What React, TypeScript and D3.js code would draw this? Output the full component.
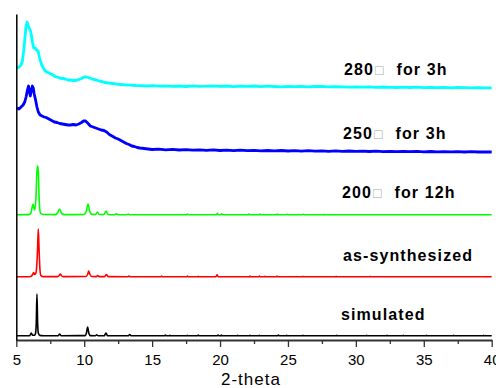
import React, { useEffect, useRef } from "react";
import * as d3 from "d3";

type Pt = [number, number];

// 2-theta ticks
const majorTicks = [5, 10, 15, 20, 25, 30, 35, 40];
const minorTicks = [7.5, 12.5, 17.5, 22.5, 27.5, 32.5, 37.5];

// Series labels (the ℃ glyph renders as a missing-glyph box in the source)
const seriesNames = ["simulated", "as-synthesized", "200", "250", "280"];
const seriesSuffix = ["", "", "for 12h", "for 3h", "for 3h"];
const seriesColors = ["#000000", "#ff0000", "#00ff00", "#0000ff", "#00ffff"];
const seriesOffsets = [4, 63, 125, 188, 252];

const simulatedPattern: Pt[] = [
  [5.0, 0.3], [5.9, 0.3], [6.0, 0.6], [6.1, 3], [6.2, 0.7], [6.36, 0.7], [6.42, 3], [6.47, 13], [6.52, 42], [6.57, 13], [6.62, 3], [6.72, 0.6],
  [7.0, 0.3], [8.08, 0.3], [8.19, 2], [8.3, 0.3], [10.05, 0.4], [10.16, 2.8], [10.25, 9], [10.34, 2.8], [10.45, 0.4],
  [10.82, 0.3], [10.92, 1.2], [11.02, 0.3], [11.48, 0.3], [11.6, 3], [11.72, 0.3], [13.23, 0.2], [13.35, 1.5], [13.47, 0.2],
  [15.9, 0.2], [15.97, 1], [16.05, 0.2], [16.25, 0.2], [16.3, 0.8], [16.35, 0.2], [17.55, 0.2], [17.6, 0.8], [17.65, 0.2],
  [18.35, 0.2], [18.4, 1], [18.45, 0.2], [19.8, 0.2], [19.85, 1], [19.9, 0.2], [20.05, 0.2], [20.1, 0.9], [20.15, 0.2],
  [21.25, 0.2], [21.3, 0.7], [21.35, 0.2], [22.15, 0.2], [22.2, 0.8], [22.25, 0.2], [22.85, 0.2], [22.9, 0.7], [22.95, 0.2],
  [24.25, 0.2], [24.3, 1], [24.35, 0.2], [24.85, 0.2], [24.9, 0.8], [24.95, 0.2], [26.05, 0.2], [26.1, 0.7], [26.15, 0.2],
  [28.55, 0.2], [28.6, 0.7], [28.65, 0.2], [30.75, 0.2], [30.8, 0.6], [30.85, 0.2], [32.25, 0.2], [32.3, 0.6], [32.35, 0.2],
  [33.45, 0.2], [33.5, 0.6], [33.55, 0.2], [35.15, 0.2], [35.2, 0.6], [35.25, 0.2], [37.15, 0.2], [37.2, 0.6], [37.25, 0.2],
  [39.35, 0.2], [39.4, 0.6], [39.45, 0.2], [40, 0.2],
];

const asSynthesizedPattern: Pt[] = [
  [5.0, 0.3], [5.95, 0.3], [6.12, 1], [6.22, 3], [6.28, 4.5], [6.35, 2.5], [6.43, 3.5], [6.51, 12], [6.57, 30], [6.62, 48], [6.67, 30], [6.73, 10],
  [6.8, 1.8], [6.95, 0.4], [8.05, 0.4], [8.16, 1.5], [8.24, 3], [8.33, 1.2], [8.45, 0.4], [10.12, 0.5], [10.25, 2.5],
  [10.33, 6], [10.42, 2.5], [10.55, 0.5], [10.9, 0.4], [11.0, 1.5], [11.1, 0.4], [11.5, 0.4], [11.63, 2.5], [11.76, 0.4],
  [13.2, 0.3], [13.3, 1], [13.4, 0.3], [15.65, 0.3], [15.7, 1], [15.75, 0.3], [17.55, 0.3], [17.6, 1], [17.65, 0.3],
  [18.35, 0.3], [18.4, 0.8], [18.45, 0.3], [19.7, 0.3], [19.78, 2.2], [19.86, 0.3], [22.15, 0.3], [22.2, 0.9], [22.25, 0.3],
  [22.85, 0.3], [22.9, 1], [22.95, 0.3], [23.25, 0.3], [23.3, 0.8], [23.35, 0.3], [24.15, 0.3], [24.2, 1], [24.25, 0.3],
  [26.05, 0.3], [26.1, 0.8], [26.15, 0.3], [28.5, 0.3], [28.55, 0.6], [28.6, 0.3], [31.0, 0.3], [31.05, 0.5], [31.1, 0.3],
  [40, 0.2],
];

const heated200Pattern: Pt[] = [
  [5.0, 0.3], [5.9, 0.4], [6.08, 2], [6.17, 8], [6.23, 11], [6.3, 7], [6.37, 5], [6.45, 18], [6.52, 44], [6.57, 49],
  [6.62, 44], [6.69, 14], [6.78, 2], [6.95, 0.5], [7.8, 0.4], [8.02, 1.5], [8.19, 6], [8.34, 1.5], [8.55, 0.4],
  [9.98, 0.5], [10.16, 4], [10.28, 11], [10.4, 4], [10.58, 0.6], [10.84, 0.5], [10.97, 3], [11.1, 0.5], [11.45, 0.6],
  [11.6, 4], [11.76, 0.5], [12.22, 0.3], [12.37, 1.2], [12.52, 0.3], [13.12, 0.3], [13.25, 1], [13.38, 0.3],
  [17.5, 0.3], [17.6, 1], [17.7, 0.3], [19.72, 0.3], [19.8, 1.6], [19.88, 0.3], [20.05, 0.3], [20.12, 1.2], [20.2, 0.3],
  [22.05, 0.3], [22.12, 1], [22.2, 0.3], [22.85, 0.3], [22.92, 1], [23.0, 0.3], [24.15, 0.3], [24.22, 1], [24.3, 0.3],
  [24.85, 0.3], [24.92, 0.8], [25.0, 0.3], [26.05, 0.3], [26.12, 0.8], [26.2, 0.3], [27.6, 0.3], [27.65, 0.6], [27.7, 0.3],
  [40, 0.3],
];

const heated250Pattern: Pt[] = [
  [5.05, 44], [5.2, 43], [5.35, 45], [5.5, 47], [5.62, 50], [5.72, 55], [5.82, 62], [5.9, 66], [5.97, 60], [6.03, 56],
  [6.1, 61], [6.18, 66], [6.25, 64], [6.32, 58], [6.42, 52], [6.52, 45], [6.62, 40], [6.75, 37], [6.9, 36], [7.05, 35],
  [7.2, 34.5], [7.4, 33], [7.6, 31.5], [7.8, 30], [8.0, 29.5], [8.2, 28.5], [8.4, 28], [8.6, 27.5], [8.8, 27], [9.0, 27],
  [9.2, 27.5], [9.4, 27], [9.6, 28], [9.8, 29.5], [9.95, 31], [10.1, 31], [10.25, 29], [10.45, 26], [10.65, 25],
  [10.85, 24], [11.05, 23], [11.25, 22], [11.45, 21.5], [11.65, 20], [11.85, 17.5], [12.05, 16], [12.3, 14], [12.5, 13],
  [12.7, 11.5], [12.9, 10], [13.1, 8.5], [13.3, 7.5], [13.5, 6], [13.7, 5.5], [13.9, 4.5], [14.1, 4], [14.4, 3.5],
  [14.7, 3], [15, 2.5], [15.5, 2.8], [16, 2.2], [16.5, 2.6], [17, 2], [17.5, 2.4], [18, 1.8], [18.5, 2.2], [19, 1.6],
  [19.5, 2.1], [20, 1.5], [20.5, 1.9], [21, 1.4], [21.5, 1.8], [22, 1.3], [22.5, 1.7], [23, 1.2], [23.5, 1.5], [24, 1.1],
  [24.5, 1.5], [25, 1], [25.5, 1.3], [26, 0.9], [26.5, 1.3], [27, 0.8], [27.5, 1.1], [28, 0.7], [28.5, 1.1], [29, 0.6],
  [29.5, 1], [30, 0.6], [30.5, 0.9], [31, 0.5], [31.5, 0.8], [32, 0.4], [32.5, 0.7], [33, 0.3], [33.5, 0.7], [34, 0.3],
  [34.5, 0.6], [35, 0.2], [35.5, 0.5], [36, 0.2], [36.5, 0.4], [37, 0.1], [37.5, 0.4], [38, 0], [38.5, 0.3], [39, 0],
  [39.5, 0.2], [40, 0],
];

const heated280Pattern: Pt[] = [
  [5.05, 20], [5.2, 21], [5.35, 23], [5.45, 27], [5.55, 38], [5.65, 52], [5.72, 62], [5.8, 66], [5.88, 62], [5.95, 60],
  [6.05, 57], [6.12, 52], [6.2, 45], [6.28, 40], [6.38, 40], [6.5, 38], [6.6, 37], [6.7, 31], [6.8, 26], [6.9, 22],
  [7.0, 20], [7.12, 17], [7.25, 16], [7.4, 15], [7.55, 14], [7.7, 13], [7.85, 11.5], [8.0, 11], [8.2, 10], [8.4, 9.5],
  [8.6, 9], [8.8, 8], [9.0, 8], [9.2, 7.5], [9.4, 7.5], [9.6, 8.5], [9.8, 9.5], [10.0, 11], [10.15, 11], [10.3, 10.5],
  [10.5, 9.5], [10.7, 8.5], [10.9, 8], [11.1, 7], [11.3, 6.5], [11.5, 5.5], [11.8, 5], [12.1, 4.5], [12.4, 3.8],
  [12.7, 3.5], [13.0, 3.2], [13.4, 2.8], [13.8, 2.5], [14.2, 2.4], [14.6, 2], [15, 2.3], [15.5, 1.8], [16, 2.2],
  [16.5, 1.6], [17, 2], [17.5, 1.5], [18, 2.1], [18.5, 1.6], [19, 1.8], [19.5, 2.2], [20, 1.6], [20.5, 2], [21, 1.4],
  [21.5, 1.9], [22, 1.6], [22.5, 2], [23, 1.4], [23.5, 1.8], [24, 1.5], [24.5, 1.2], [25, 1.7], [25.5, 1.3], [26, 1.6],
  [26.5, 1.1], [27, 1.5], [27.5, 1.7], [28, 1.1], [28.5, 1.4], [29, 1.1], [29.5, 0.8], [30, 1.2], [30.5, 0.8], [31, 1.1],
  [31.5, 0.6], [32, 1], [32.5, 0.7], [33, 0.5], [33.5, 0.9], [34, 0.5], [34.5, 0.8], [35, 0.4], [35.5, 0.7], [36, 0.3],
  [36.5, 0.6], [37, 0.2], [37.5, 0.5], [38, 0.3], [38.5, 0.1], [39, 0.4], [39.5, 0.1], [40, 0.2],
];

const patterns: Pt[][] = [simulatedPattern, asSynthesizedPattern, heated200Pattern, heated250Pattern, heated280Pattern];
const sharpSeries = [true, true, true, false, false];

const W = 496;
const H = 388;
const FONT = "'Liberation Sans', Arial, Helvetica, sans-serif";

export default function App() {
  const axisRef = useRef<SVGGElement>(null);

  const x = d3.scaleLinear().domain([5, 40]).range([16.3, 491.7]);
  const y = d3.scaleLinear().domain([0, 326]).range([340, 14]);

  useEffect(() => {
    if (!axisRef.current) return;
    const g = d3.select(axisRef.current);
    g.selectAll("*").remove();

    const bottom = g.append("g").attr("transform", `translate(0,${y(0)})`);
    bottom.call(
      d3.axisBottom(x).tickValues(majorTicks).tickSize(7).tickSizeOuter(0).tickFormat(d3.format("d")) as any
    );
    bottom.select(".domain").attr("stroke", "#333").attr("stroke-width", 2);
    bottom.selectAll(".tick line").attr("stroke", "#333").attr("stroke-width", 1.3);
    bottom
      .selectAll(".tick text")
      .attr("font-family", FONT)
      .attr("font-size", 15)
      .attr("fill", "#000")
      .attr("y", 14)
      .attr("dy", "0.71em");

    const minor = g.append("g").attr("transform", `translate(0,${y(0)})`);
    minor.call(d3.axisBottom(x).tickValues(minorTicks).tickSize(4).tickSizeOuter(0).tickFormat(() => "") as any);
    minor.select(".domain").remove();
    minor.selectAll(".tick line").attr("stroke", "#333").attr("stroke-width", 1.3);

    const left = g.append("g").attr("transform", `translate(${x(5)},0)`);
    left.call(d3.axisLeft(y).tickValues([]).tickSizeOuter(0) as any);
    left.select(".domain").attr("stroke", "#000").attr("stroke-width", 1.5);
  }, []);

  const lines = patterns.map((data, i) => {
    const gen = d3
      .line<Pt>()
      .x((d) => x(d[0]))
      .y((d) => y(d[1] + seriesOffsets[i]))
      .curve(sharpSeries[i] ? d3.curveMonotoneX : d3.curveLinear);
    return gen(data) || "";
  });

  const labelPos = [
    { x: 341, y: 320 },
    { x: 343, y: 261 },
    { x: 342, y: 198 },
    { x: 343, y: 139 },
    { x: 344, y: 75 },
  ];

  return (
    <svg
      width={W}
      height={H}
      style={{ position: "absolute", left: 0, top: 0, background: "#fff" }}
    >
      <rect x={0} y={0} width={W} height={H} fill="#fff" />
      {lines.map((d, i) => (
        <path
          key={i}
          d={d}
          fill="none"
          stroke={seriesColors[i]}
          strokeWidth={sharpSeries[i] ? 1.6 : 2.8}
          strokeLinejoin="round"
        />
      ))}
      <g ref={axisRef} />
      {seriesNames.map((name, i) => (
        <text
          key={i}
          x={labelPos[i].x}
          y={labelPos[i].y}
          fontFamily={FONT}
          fontWeight="bold"
          fontSize={16}
          letterSpacing={1.1}
          fill="#000"
        >
          {name}
          {seriesSuffix[i] ? (
            <>
              <tspan fill="#aaa" fontWeight="normal" fontSize={14} dx={1}>
                □
              </tspan>
              <tspan dx={12}>{seriesSuffix[i]}</tspan>
            </>
          ) : null}
        </text>
      ))}
      <text x={221} y={385} fontFamily={FONT} fontSize={17} letterSpacing={1} fill="#000">
        2-theta
      </text>
    </svg>
  );
}
